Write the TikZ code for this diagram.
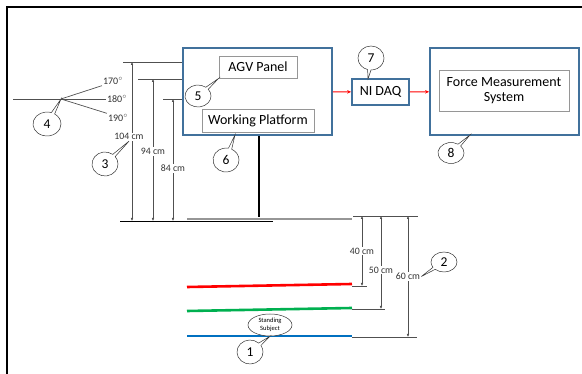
\documentclass[tikz,border=0pt]{standalone}
\usepackage{fontspec}
\setmainfont{Carlito}
\usetikzlibrary{positioning,arrows.meta,shapes,shapes.callouts,calc}
\definecolor{BoxBlue}{RGB}{65,113,156}
\definecolor{PanelGray}{RGB}{150,150,150}
\definecolor{DimGray}{RGB}{80,80,80}
\definecolor{LineRed}{RGB}{255,0,0}
\definecolor{LineGreen}{RGB}{0,176,80}
\definecolor{LineBlue}{RGB}{0,112,192}

\begin{document}
\begin{tikzpicture}[x=1pt, y=-1pt,
    outbox/.style={rectangle, draw=BoxBlue, line width=1.8pt, fill=white},
    inbox/.style={rectangle, draw=PanelGray, line width=0.9pt, fill=white,
                  align=center, font=\fontsize{14}{15.5}\selectfont},
    dim/.style={{Latex[length=3pt,width=2.6pt]}-{Latex[length=3pt,width=2.6pt]}, DimGray, line width=0.5pt},
    dimlbl/.style={fill=white, inner sep=1pt, font=\fontsize{9.8}{11}\selectfont, text=black!80},
    anglbl/.style={inner sep=1pt, font=\fontsize{10}{11}\selectfont, text=black!80},
    rule/.style={DimGray, line width=0.7pt},
    sig/.style={-{Stealth[length=4pt,width=3.5pt]}, LineRed, line width=1pt},
    numtag/.style={ellipse callout, draw=black!80, line width=0.5pt, fill=white,
                   minimum width=26pt, minimum height=24pt, inner sep=0pt,
                   font=\fontsize{13.5}{14}\selectfont},
    level/.style={line width=2.6pt}
]
    \useasboundingbox (0,0) rectangle (582,374);
    \draw[line width=2.6pt] (582,7) -- (7,7) -- (7,374);

    \node[outbox, minimum width=149pt, minimum height=87pt] (agv) at (257.5,91.5) {};
    \node[inbox, minimum width=78pt, minimum height=22pt] (panel) at (258,67) {AGV Panel};
    \node[inbox, minimum width=112pt, minimum height=23pt] (wp) at (258,120.5) {Working Platform};
    \node[outbox, minimum width=57pt, minimum height=26pt, font=\fontsize{14}{15.5}\selectfont] (daq) at (380.5,92) {NI DAQ};
    \node[outbox, minimum width=149pt, minimum height=87pt] (fms) at (504.5,91.5) {};
    \node[inbox, minimum width=130pt, minimum height=41pt] (fmsin) at (504,90.5) {Force Measurement\\System};
    \draw[sig] (agv) -- (daq);
    \draw[sig] (daq) -- (fms);

    \coordinate (pole) at (259,217);
    \draw[line width=2.6pt] (agv.south -| pole) -- (pole);
    \draw[black, line width=0.7pt] (120,221) -- (273,221);
    \draw[level, PanelGray] (187,219) -- (352,219);

    \coordinate (h104) at (123,62);
    \coordinate (h94) at (138,79);
    \coordinate (h84) at (163,99);
    \draw[rule] (h104) -- (h104 -| agv.west);
    \draw[rule] (h94) -- (h94 -| agv.west);
    \draw[rule] (h84) -- (h84 -| agv.west);
    \draw[dim] (132,62) -- node[dimlbl, pos=0.47, xshift=-3pt] (lbl104) {104 cm} (132,221);
    \draw[dim] (153,79) -- node[dimlbl, pos=0.51] (lbl94) {94 cm} (153,221);
    \draw[dim] (173,99) -- node[dimlbl, pos=0.57] (lbl84) {84 cm} (173,221);

    \coordinate (vtx) at (61,99);
    \coordinate (hzl) at (13,99);
    \node[anglbl] (a170) at (113,81) {170$^{\circ}$};
    \node[anglbl] (a180) at (117,99) {180$^{\circ}$};
    \node[anglbl] (a190) at (118,118) {190$^{\circ}$};
    \draw[rule] (hzl) -- (a180.west);
    \draw[rule] (vtx) -- (a170.south west);
    \draw[rule] (vtx) -- (a190.north west);

    \draw[level, LineRed] (187,287) -- (352,284);
    \draw[level, LineGreen] (187,311) -- (352,308);
    \draw[level, LineBlue] (187,336) -- (352,336);
    \node[ellipse, draw=black!80, line width=0.5pt, fill=white, minimum width=44pt, minimum height=22pt,
          inner sep=0pt, align=center, font=\fontsize{6.5}{7.5}\selectfont] (subj) at (270,325) {Standing\\Subject};

    \draw[rule] (353,216) -- (418,216);
    \draw[rule] (352,286) -- (367,286);
    \draw[rule] (352,309) -- (385,309);
    \draw[rule] (352,337) -- (417,337);
    \draw[dim] (362,216) -- node[dimlbl] (lbl40) {40 cm} (362,286);
    \draw[dim] (381,216) -- node[dimlbl, pos=0.58] (lbl50) {50 cm} (381,309);
    \draw[dim] (408,216) -- node[dimlbl, pos=0.5] (lbl60) {60 cm} (408,337);

    \coordinate (p6) at (235,135);
    \coordinate (p7) at (368,79);
    \coordinate (p8) at (470,135);
    \node[numtag, callout absolute pointer=(subj.south)] (c1) at (250,352) {1};
    \node[numtag, minimum height=20pt, callout absolute pointer=(lbl60.east)] (c2) at (444,262) {2};
    \node[numtag, callout absolute pointer=(lbl104.south)] (c3) at (105,164) {3};
    \node[numtag, minimum width=28pt, callout absolute pointer=(vtx)] (c4) at (47,124) {4};
    \node[numtag, minimum height=22pt, callout absolute pointer=(panel.south west)] (c5) at (198,96) {5};
    \node[numtag, callout absolute pointer=(p6)] (c6) at (226,160) {6};
    \node[numtag, callout absolute pointer=(p7)] (c7) at (371,58) {7};
    \node[numtag, minimum height=21pt, callout absolute pointer=(p8)] (c8) at (451,153) {8};
\end{tikzpicture}
\end{document}
